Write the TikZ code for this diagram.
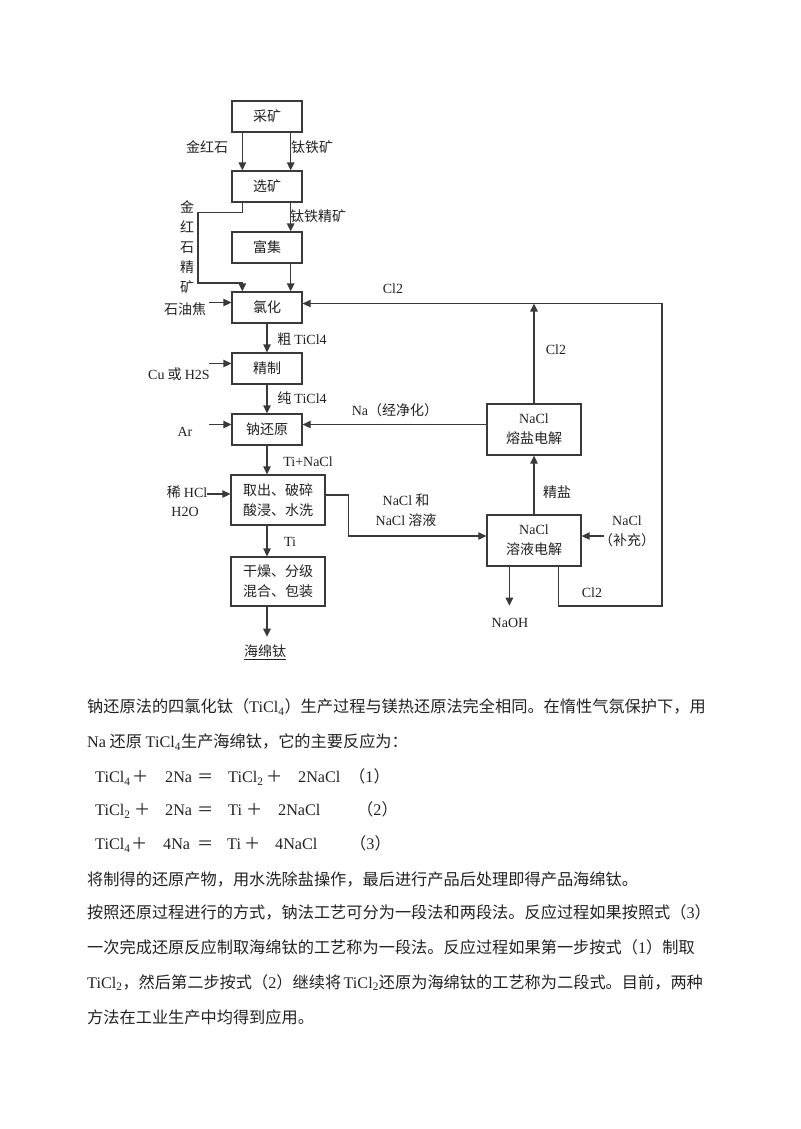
\documentclass[tikz,border=0pt]{standalone}
\usepackage{fontspec}
\setmainfont{Noto Sans CJK SC}
\newfontfamily\tms{Liberation Serif}
\usetikzlibrary{arrows.meta,calc}
\definecolor{LineGray}{HTML}{3A3A3A}
\definecolor{InkGray}{HTML}{222222}
\newcommand{\tmr}[1]{{\tms #1}}
\newcommand{\flowfont}{\fontsize{14pt}{20pt}\selectfont}
\newcommand{\bodyfont}{\fontsize{16.2pt}{16.2pt}\selectfont}
\newcommand{\eqcell}[2]{\makebox[#1pt][l]{#2}}
% small stretch between CJK characters, used for the justified lines
\XeTeXinterchartokenstate=1
\XeTeXinterchartoks 1 1 = {\hskip0pt plus 1pt\relax}
\XeTeXinterchartoks 1 2 = {\hskip0pt plus 1pt\relax}
\XeTeXinterchartoks 1 3 = {\hskip0pt plus 1pt\relax}
\XeTeXinterchartoks 2 1 = {\hskip0pt plus 1pt\relax}
\XeTeXinterchartoks 3 1 = {\hskip0pt plus 1pt\relax}
\XeTeXinterchartoks 3 2 = {\hskip0pt plus 1pt\relax}
\XeTeXinterchartoks 1 0 = {\hskip0pt plus 1pt\relax}
\XeTeXinterchartoks 0 1 = {\hskip0pt plus 1pt\relax}

\tikzset{
  procbox/.style={draw=LineGray, line width=1.3pt, fill=white, minimum width=70pt,
    minimum height=31pt, inner sep=0pt, align=center, font=\flowfont, text=InkGray},
  widebox/.style={procbox, minimum width=94pt, minimum height=50pt},
  flow/.style={draw=LineGray, line width=1.3pt, -{Triangle[length=8pt,width=7.5pt]}},
  tag/.style={inner sep=0pt, font=\flowfont, text=InkGray, align=center},
  para/.style={inner sep=0pt, anchor=base west, font=\bodyfont, text=InkGray},
}

\begin{document}
\begin{tikzpicture}[x=1pt,y=-1pt]
    \useasboundingbox (0,0) rectangle (800,1129);

    % main line of the process
    \node[procbox] (caikuang) at (267,116.5) {采矿};
    \node[procbox] (xuankuang) at (267,186.5) {选矿};
    \node[procbox] (fuji) at (267,247.5) {富集};
    \node[procbox] (lvhua) at (267,307.5) {氯化};
    \node[procbox] (jingzhi) at (267,368.5) {精制};
    \node[procbox] (nahuanyuan) at (267,429.5) {钠还原};
    \node[widebox] (quchu) at (278,500) {取出、破碎\\酸浸、水洗};
    \node[widebox, minimum height=49pt] (ganzao) at (278,581.5) {干燥、分级\\混合、包装};

    % electrolysis
    \node[widebox, minimum height=51pt] (rongyan) at (534,429.5) {\tmr{NaCl}\\熔盐电解};
    \node[widebox, minimum height=51pt] (rongye) at (534,540.5) {\tmr{NaCl}\\溶液电解};

    % labels
    \node[tag] (jinhongshi) at (207,147) {金红石};
    \node[tag] (taitiekuang) at (312,147) {钛铁矿};
    \node[tag] (jinhongjing) at (187,247) {金\\红\\石\\精\\矿};
    \node[tag] (taitiejing) at (318,216) {钛铁精矿};
    \node[tag] (shiyoujiao) at (185,309) {石油焦};
    \node[tag] (cutic) at (302,339) {粗 \tmr{TiCl4}};
    \node[tag] (cuhs) at (179,374) {\tmr{Cu} 或 \tmr{H2S}};
    \node[tag] (chuntic) at (302,398) {纯 \tmr{TiCl4}};
    \node[tag] (argon) at (185,432) {\tmr{Ar}};
    \node[tag] (tinacl) at (308,462) {\tmr{Ti+NaCl}};
    \node[tag] (xihcl) at (187,492) {稀 \tmr{HCl}};
    \node[tag] (water) at (185,512) {\tmr{H2O}};
    \node[tag] (titan) at (290,542) {\tmr{Ti}};
    \node[tag] (haimian) at (265,652) {\underline{海绵钛}};
    \node[tag] (cltop) at (393,289) {\tmr{Cl2}};
    \node[tag] (clmid) at (556,350) {\tmr{Cl2}};
    \node[tag] (najing) at (395,410) {\tmr{Na}（经净化）};
    \node[tag] (naclrong) at (406,510.5) {\tmr{NaCl} 和\\\tmr{NaCl} 溶液};
    \node[tag] (jingyan) at (557,492) {精盐};
    \node[tag] (buchong) at (627,531) {\tmr{NaCl}\\（补充）};
    \node[tag] (naoh) at (510,623) {\tmr{NaOH}};
    \node[tag] (clbot) at (592,593) {\tmr{Cl2}};

    \coordinate (bendleft) at (198,283);
    \coordinate (loopbot) at (662,606);
    \coordinate (clline) at ([yshift=4pt]lvhua.east);

    % arrows, left column
    \draw[flow] ([xshift=11pt]caikuang.south west) -- ([xshift=11pt]xuankuang.north west);
    \draw[flow] ([xshift=-12pt]caikuang.south east) -- ([xshift=-12pt]xuankuang.north east);
    \draw[flow] ([xshift=11pt]xuankuang.south west) -- ++(0,10) -| (bendleft) -| ([xshift=11pt]lvhua.north west);
    \draw[flow] ([xshift=-12pt]xuankuang.south east) -- ([xshift=-12pt]fuji.north east);
    \draw[flow] ([xshift=-12pt]fuji.south east) -- ([xshift=-12pt]lvhua.north east);
    \draw[flow] (lvhua.south) -- (jingzhi.north);
    \draw[flow] (jingzhi.south) -- (nahuanyuan.north);
    \draw[flow] (nahuanyuan.south) -- (nahuanyuan.south |- quchu.north);
    \draw[flow] (quchu.south -| nahuanyuan.south) -- (ganzao.north -| nahuanyuan.south);
    \draw[flow] (ganzao.south -| nahuanyuan.south) -- ++(0,30);

    \draw[flow] ([xshift=-22pt,yshift=5pt]lvhua.west) -- ([yshift=5pt]lvhua.west);
    \draw[flow] ([xshift=-22pt,yshift=5pt]jingzhi.west) -- ([yshift=5pt]jingzhi.west);
    \draw[flow] ([xshift=-22pt,yshift=5pt]nahuanyuan.west) -- ([yshift=5pt]nahuanyuan.west);
    \draw[flow] ([xshift=-23pt,yshift=6pt]quchu.west) -- ([yshift=6pt]quchu.west);

    % arrows, right side
    \draw[flow] ([xshift=-23pt]rongye.south east) |- (loopbot) |- (clline);
    \draw[flow] (rongyan.north) -- (rongyan.north |- clline);
    \draw[flow] ([yshift=5pt]rongyan.west) -- ([yshift=5pt]nahuanyuan.east);
    \draw[flow] (rongye.north) -- (rongyan.south);
    \draw[flow] ([yshift=5pt]quchu.east) -- ++(23,0) |- ([yshift=4.5pt]rongye.west);
    \draw[flow] ([xshift=22pt,yshift=4.5pt]rongye.east) -- ([yshift=4.5pt]rongye.east);
    \draw[flow] ([xshift=23pt]rongye.south west) -- ++(0,39);

    % text below the chart
    \node[para] (line1) at (87,712.5) {\makebox[608pt][s]{钠还原法的四氯化钛（\tmr{TiCl\textsubscript{4}}）生产过程与镁热还原法完全相同。在惰性气氛保护下，用}};
    \node[para] (line2) at (87,747.5) {\tmr{Na} 还原 \tmr{TiCl\textsubscript{4}}生产海绵钛，它的主要反应为：};
    \node[para] (react1) at (95,782.5) {\eqcell{37}{\tmr{TiCl\textsubscript{4}}}\eqcell{33}{＋}\eqcell{32}{\tmr{2Na}}\eqcell{31}{＝}\eqcell{38}{\tmr{TiCl\textsubscript{2}}}\eqcell{32}{＋}\eqcell{51}{\tmr{2NaCl}}（\tmr{1}）};
    \node[para] (react2) at (95,815.5) {\eqcell{39}{\tmr{TiCl\textsubscript{2}}}\eqcell{31}{＋}\eqcell{32}{\tmr{2Na}}\eqcell{31}{＝}\eqcell{18}{\tmr{Ti}}\eqcell{32}{＋}\eqcell{79}{\tmr{2NaCl}}（\tmr{2}）};
    \node[para] (react3) at (95,849.5) {\eqcell{36}{\tmr{TiCl\textsubscript{4}}}\eqcell{32}{＋}\eqcell{34}{\tmr{4Na}}\eqcell{30}{＝}\eqcell{17}{\tmr{Ti}}\eqcell{31}{＋}\eqcell{75}{\tmr{4NaCl}}（\tmr{3}）};
    \node[para] (line5) at (87,885) {将制得的还原产物，用水洗除盐操作，最后进行产品后处理即得产品海绵钛。};
    \node[para] (line6) at (87,918) {\makebox[608pt][s]{按照还原过程进行的方式，钠法工艺可分为一段法和两段法。反应过程如果按照式（\tmr{3}）}};
    \node[para] (line7) at (87,953) {\makebox[599pt][s]{一次完成还原反应制取海绵钛的工艺称为一段法。反应过程如果第一步按式（\tmr{1}）制取}};
    \node[para] (line8) at (87,988) {\makebox[608pt][s]{\tmr{TiCl\textsubscript{2}}，然后第二步按式（\tmr{2}）继续将 \tmr{TiCl\textsubscript{2}}还原为海绵钛的工艺称为二段式。目前，两种}};
    \node[para] (line9) at (87,1023) {方法在工业生产中均得到应用。};
\end{tikzpicture}
\end{document}
